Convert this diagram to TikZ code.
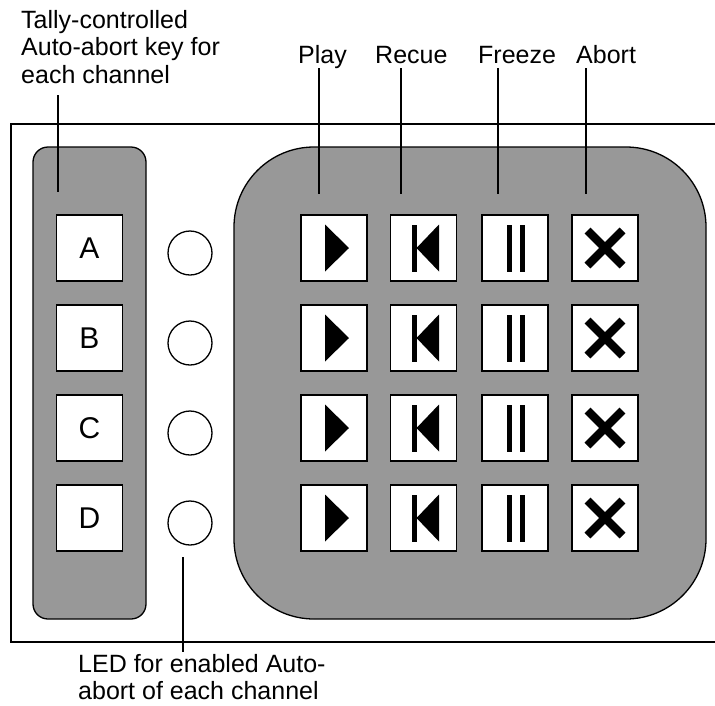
\documentclass[tikz,border=0pt]{standalone}
\usepackage{fontspec}
\setmainfont{Liberation Sans}
\definecolor{panelgray}{RGB}{152,152,152}
\begin{document}
\begin{tikzpicture}[x=1pt,y=-1pt,
  panel/.style={fill=panelgray, draw=black, line width=1.3pt},
  frame/.style={draw=black, line width=1.3pt},
  leader/.style={draw=black, line width=1.5pt},
  key/.style={draw=black, fill=white, line width=1.5pt, minimum width=66pt, minimum height=66pt, inner sep=0pt, font=\fontsize{30}{33}\selectfont},
  led/.style={circle, draw=black, fill=white, line width=1.3pt, minimum size=44pt, inner sep=0pt},
  lbl/.style={inner sep=0pt, anchor=base west, font=\fontsize{25}{27.5}\selectfont},
  sym/.style={fill=black},
  xsym/.style={draw=black, line width=8.3pt, line cap=butt}
]
\useasboundingbox (0,0) rectangle (715,705);

% outer frame, open on the right
\draw[frame] (715,124) -- (11,124) -- (11,642) -- (715,642);

% panels
\draw[panel, rounded corners=15pt] (33,147) rectangle (146,619);
\draw[panel, rounded corners=80pt] (234,147) rectangle (706,619);

% labels
\node[lbl] (tally) at (21,28) {\begin{tabular}[t]{@{}l@{}}Tally-controlled\\Auto-abort key for\\each channel\end{tabular}};
\node[lbl] (lplay) at (298,63) {Play};
\node[lbl] (lrecue) at (375,63) {Recue};
\node[lbl] (lfreeze) at (478,63) {Freeze};
\node[lbl] (labort) at (576,63) {Abort};
\node[lbl] (ledtxt) at (78,672) {\begin{tabular}[t]{@{}l@{}}LED for enabled Auto-\\abort of each channel\end{tabular}};

% leader end points
\coordinate (t1) at (58,95);   \coordinate (t2) at (58,192);
\coordinate (p1) at (319,68);  \coordinate (p2) at (319,194);
\coordinate (r1) at (401,68);  \coordinate (r2) at (401,194);
\coordinate (f1) at (498,68);  \coordinate (f2) at (498,194);
\coordinate (a1) at (586,68);  \coordinate (a2) at (586,194);
\coordinate (e1) at (183,557); \coordinate (e2) at (183,652);

\draw[leader] (t1) -- (t2);
\draw[leader] (p1) -- (p2);
\draw[leader] (r1) -- (r2);
\draw[leader] (f1) -- (f2);
\draw[leader] (a1) -- (a2);
\draw[leader] (e1) -- (e2);

% keys, LEDs and buttons
\foreach \r/\y/\L in {1/248/A, 2/338/B, 3/428/C, 4/518/D} {
  \node[key] (key\r) at (89.5,\y) {\L};
  \node[led] (led\r) at (190,\y+5) {};
  \node[key] (play\r) at (334,\y) {};
  \node[key] (recue\r) at (423.5,\y) {};
  \node[key] (freeze\r) at (515,\y) {};
  \node[key] (abort\r) at (605,\y) {};
  \fill[sym, shift={(play\r.center)}] (-9,-23.5) -- (15,0) -- (-9,23.5) -- cycle;
  \fill[sym, shift={(recue\r.center)}] (-12,-23.5) rectangle (-7,23.5);
  \fill[sym, shift={(recue\r.center)}] (-7,0) -- (15.5,-23.5) -- (15.5,23.5) -- cycle;
  \fill[sym, shift={(freeze\r.center)}] (-8,-23.5) rectangle (-3,23.5);
  \fill[sym, shift={(freeze\r.center)}] (5,-23.5) rectangle (10,23.5);
  \draw[xsym, shift={(abort\r.center)}] (-17.5,-17.5) -- (17.5,17.5) (-17.5,17.5) -- (17.5,-17.5);
}
\end{tikzpicture}
\end{document}
